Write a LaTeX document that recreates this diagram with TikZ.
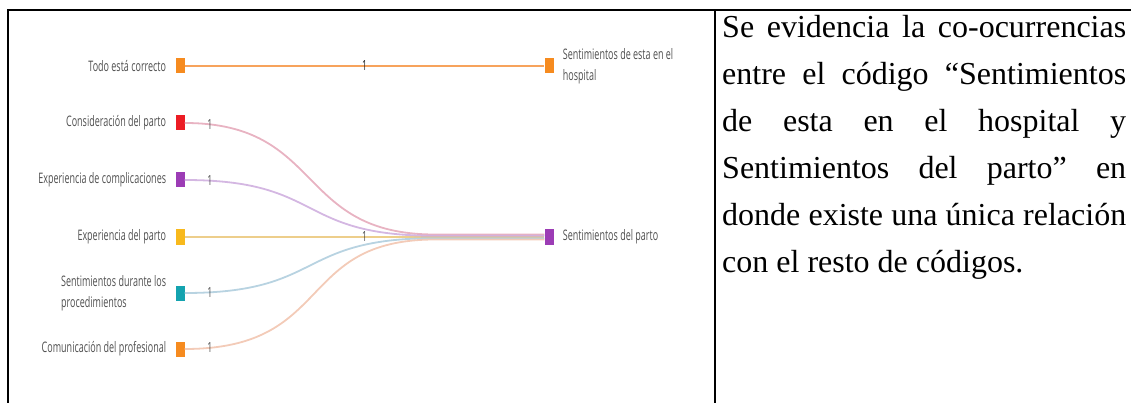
\documentclass[tikz,border=0pt]{standalone}
\usepackage{fontspec}
\usepackage{graphicx}
\setmainfont{Liberation Serif}
\newfontfamily\chartfont{Open Sans}
\newcommand{\narrow}[1]{\scalebox{0.62}[1]{#1}}
\definecolor{sqOrange}{HTML}{F68B1F}
\definecolor{sqRed}{HTML}{EC1C24}
\definecolor{sqPurple}{HTML}{9C3CB5}
\definecolor{sqGold}{HTML}{F8B91C}
\definecolor{sqTeal}{HTML}{14A3AF}
\definecolor{lnOrange}{HTML}{F7A35C}
\definecolor{lnRed}{HTML}{E2A0B3}
\definecolor{lnPurple}{HTML}{C9A5DB}
\definecolor{lnGold}{HTML}{E8C26E}
\definecolor{lnTeal}{HTML}{A6C8DA}
\definecolor{lnSalmon}{HTML}{F0BEA6}
\definecolor{txtGray}{HTML}{505050}
\tikzset{
  sq/.style={rectangle, inner sep=0pt, minimum width=9pt, minimum height=15pt},
  lbl/.style={inner sep=0pt, text=txtGray, font=\chartfont\fontsize{14.5}{21}\selectfont},
  num/.style={inner sep=0pt, text=black!85, font=\chartfont\fontsize{14}{15}\selectfont},
  link/.style={line width=1.8pt, opacity=0.8}
}
\begin{document}
\begin{tikzpicture}[x=1pt,y=-1pt,label distance=9pt]
\useasboundingbox (0,0) rectangle (1131,403);
\draw[line width=2pt] (8,403) -- (8,10) -- (1131,10) (715,10) -- (715,403);
\node[sq,fill=sqOrange,label={[lbl]left:{\narrow{Todo está correcto}}}] (todo) at (180,66) {};
\node[sq,fill=sqRed,label={[lbl]left:{\narrow{Consideración del parto}}}] (cons) at (180,123) {};
\node[sq,fill=sqPurple,label={[lbl]left:{\narrow{Experiencia de complicaciones}}}] (compl) at (180,180) {};
\node[sq,fill=sqGold,label={[lbl]left:{\narrow{Experiencia del parto}}}] (exp) at (180,237) {};
\node[sq,fill=sqTeal,label={[lbl]left:{\narrow{\begin{tabular}{@{}l@{}}Sentimientos durante los\\procedimientos\end{tabular}}}}] (proc) at (180,293) {};
\node[sq,fill=sqOrange,label={[lbl]left:{\narrow{Comunicación del profesional}}}] (com) at (180,349) {};
\node[sq,fill=sqOrange,label={[lbl]right:{\narrow{\begin{tabular}{@{}l@{}}Sentimientos de esta en el\\hospital\end{tabular}}}}] (hosp) at (549,66) {};
\node[sq,fill=sqPurple,label={[lbl]right:{\narrow{Sentimientos del parto}}}] (parto) at (549,237) {};
\coordinate (hub) at (435,237);
\draw[link,lnOrange,opacity=1] (todo.east) -- (hosp.west) node[num,pos=0.5] {\narrow{1}};
\draw[link,lnGold] (exp.east) -- (parto.west) node[num,pos=0.5] {\narrow{1}};
\draw[link,lnRed] (cons.east) .. controls +(140,0) and +(-140,0) .. ([yshift=2.5pt]hub) node[num,pos=0.065] {\narrow{1}} -- ([yshift=2.5pt]parto.west);
\draw[link,lnPurple] (compl.east) .. controls +(140,0) and +(-140,0) .. ([yshift=1.2pt]hub) node[num,pos=0.065] {\narrow{1}} -- ([yshift=1.2pt]parto.west);
\draw[link,lnTeal] (proc.east) .. controls +(140,0) and +(-140,0) .. ([yshift=-1.2pt]hub) node[num,pos=0.065] {\narrow{1}} -- ([yshift=-1.2pt]parto.west);
\draw[link,lnSalmon] (com.east) .. controls +(150,0) and +(-140,0) .. ([yshift=-2.5pt]hub) node[num,pos=0.06] {\narrow{1}} -- ([yshift=-2.5pt]parto.west);
\node[anchor=north west,inner sep=0pt,text width=404pt,align=justify,
  font=\fontsize{32}{47}\selectfont] (nota) at (722,15)
  {\tolerance=10000\relax\hyphenpenalty=10000\relax Se evidencia la co-ocurrencias\linebreak entre el código “Sentimientos\linebreak de esta en el hospital y\linebreak Sentimientos del parto” en\linebreak donde existe una única relación\linebreak con el resto de códigos.};
\end{tikzpicture}
\end{document}
